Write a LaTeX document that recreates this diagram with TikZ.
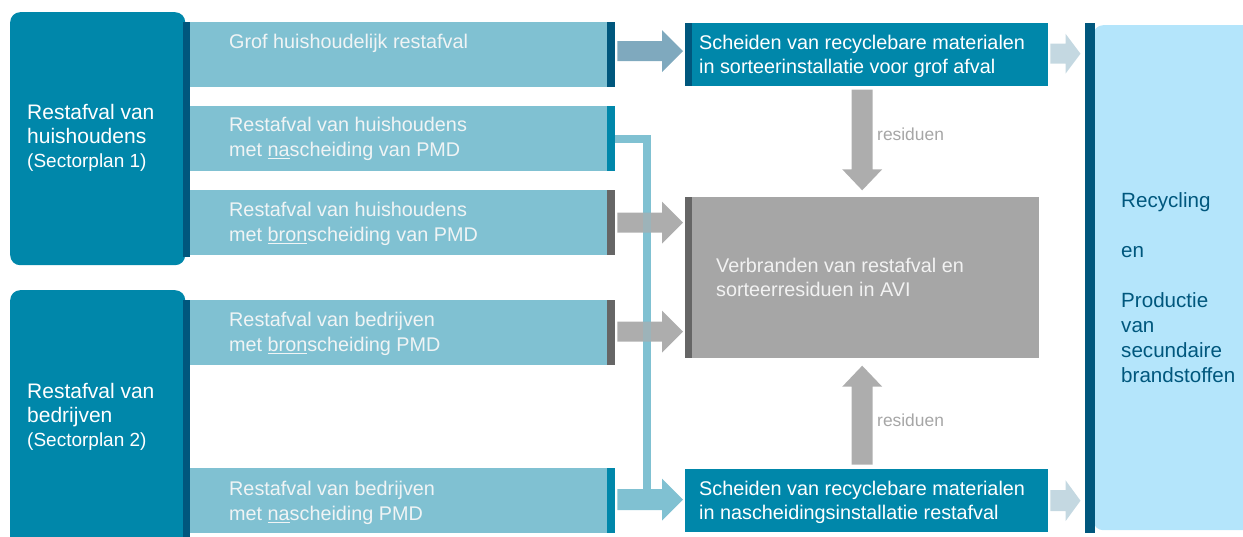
\documentclass[tikz,border=0pt]{standalone}
\usepackage{fontspec}
\setmainfont{Liberation Sans}
\usetikzlibrary{calc}
\definecolor{cTeal}{HTML}{0087AA}
\definecolor{cDark}{HTML}{00577D}
\definecolor{cLight}{HTML}{80C1D2}
\definecolor{cGstrip}{HTML}{666666}
\definecolor{cGray}{HTML}{A6A6A6}
\definecolor{cGarr}{HTML}{ADADAD}
\definecolor{cArrA}{HTML}{7FA9BE}
\definecolor{cRarr}{HTML}{C4D8E1}
\definecolor{cRfill}{HTML}{B4E5FB}
\definecolor{cLtxt}{HTML}{F0F4F5}
\definecolor{cGtxt}{HTML}{F2F2F2}
\definecolor{cRes}{HTML}{A6A6A6}
\newcommand{\mystrut}{\rule{0pt}{16pt}}
% #1 style, #2 start, #3 tip, #4 shaft half, #5 head half, #6 head length
\newcommand{\blockarrow}[6]{%
  \coordinate (hb) at ($(#3)!#6!(#2)$);
  \fill[#1] ($(#2)!#4!90:(#3)$) -- ($(hb)!#4!-90:(#2)$) -- ($(hb)!#5!-90:(#2)$) -- (#3)
     -- ($(hb)!#5!90:(#2)$) -- ($(hb)!#4!90:(#2)$) -- ($(#2)!#4!-90:(#3)$) -- cycle;}
\begin{document}
\begin{tikzpicture}[x=1pt,y=-1pt,
  bigbox/.style={fill=cTeal, rounded corners=10pt, minimum width=175pt, anchor=north west, inner sep=0pt},
  lbox/.style={fill=cLight, minimum width=425pt, minimum height=65pt, anchor=north west, inner sep=0pt},
  sortbox/.style={fill=cTeal, minimum width=363pt, minimum height=63pt, anchor=north west, inner sep=0pt},
  txt/.style={anchor=north west, inner sep=0pt, align=left, font=\fontsize{19.8}{25}\selectfont, text=cLtxt},
  sorttxt/.style={txt, font=\fontsize{19.8}{24}\selectfont, text=white},
  bigtxt/.style={txt, font=\fontsize{21}{24}\selectfont, text=white},
  restxt/.style={anchor=base west, inner sep=0pt, font=\fontsize{17.4}{20}\selectfont, text=cRes},
  bline/.style={draw=cLight, line width=8pt}
]
\useasboundingbox (0,0) rectangle (1243,536);

% left group boxes
\node[bigbox, minimum height=253pt] (L1) at (10,12) {};
\node[bigbox, minimum height=262pt] (L2) at (10,290) {};
\fill[cDark] (183,22) rectangle (190,257);
\fill[cDark] (183,300) rectangle (190,540);

% light waste boxes
\node[lbox] (r1) at (190,22) {};
\node[lbox] (r2) at (190,106) {};
\node[lbox] (r3) at (190,190) {};
\node[lbox] (r4) at (190,300) {};
\node[lbox] (r5) at (190,468) {};
\fill[cDark]   ([xshift=-8pt]r1.north east) rectangle (r1.south east);
\fill[cTeal]   ([xshift=-8pt]r2.north east) rectangle (r2.south east);
\fill[cGstrip] ([xshift=-8pt]r3.north east) rectangle (r3.south east);
\fill[cGstrip] ([xshift=-8pt]r4.north east) rectangle (r4.south east);
\fill[cTeal]   ([xshift=-8pt]r5.north east) rectangle (r5.south east);

% process boxes
\node[sortbox] (sort1) at (685,23) {};
\fill[cDark] (sort1.north west) rectangle ([xshift=7pt]sort1.south west);
\node[fill=cGray, minimum width=354pt, minimum height=161pt, anchor=north west, inner sep=0pt] (gray) at (685,197) {};
\fill[cGstrip] (gray.north west) rectangle ([xshift=7pt]gray.south west);
\node[sortbox] (sort2) at (685,469) {};

% right box
\node[fill=cRfill, rounded corners=10pt, minimum width=175pt, minimum height=505pt, anchor=north west, inner sep=0pt] (R) at (1093,25) {};
\fill[cDark] (1085,23) rectangle (1095,533);

% blue connector from row 2 to the nascheiding arrow
\coordinate (bj) at (647,498);
\draw[bline] (r2.east) -| (bj);

% horizontal arrows
\coordinate (a1s) at ($(r1.east)+(2,-3.5)$);
\coordinate (a1e) at ($(sort1.west |- a1s)+(-2,0)$);
\blockarrow{cArrA}{a1s}{a1e}{10pt}{21pt}{21pt}
\coordinate (a3s) at ($(r3.east)+(2,0)$);
\coordinate (a3e) at ($(gray.west |- a3s)+(-2,0)$);
\blockarrow{cGarr}{a3s}{a3e}{10pt}{21pt}{21pt}
\coordinate (a4s) at ($(r4.east)+(2,-1)$);
\coordinate (a4e) at ($(gray.west |- a4s)+(-2,0)$);
\blockarrow{cGarr}{a4s}{a4e}{10pt}{21pt}{21pt}
\coordinate (a5s) at ($(r5.east)+(2,-1)$);
\coordinate (a5e) at ($(sort2.west |- a5s)+(-2,0)$);
\blockarrow{cLight}{a5s}{a5e}{10.5pt}{21pt}{21pt}
% blue line seen through the grey arrows
\draw[bline, opacity=0.35] (r2.east) -| (bj);

% arrows to the right box
\coordinate (b1s) at ($(sort1.east)+(2,-1)$);
\coordinate (b1e) at ($(R.west |- b1s)+(-12.5,0)$);
\blockarrow{cRarr}{b1s}{b1e}{10pt}{20pt}{15pt}
\coordinate (b2s) at ($(sort2.east)+(2,0)$);
\coordinate (b2e) at ($(R.west |- b2s)+(-12.5,0)$);
\blockarrow{cRarr}{b2s}{b2e}{10.5pt}{20.5pt}{15pt}

% residue arrows
\coordinate (v1s) at ($(gray.north |- sort1.south)+(0,3.3)$);
\coordinate (v1e) at ($(gray.north)+(0,-6.7)$);
\blockarrow{cGarr}{v1s}{v1e}{10.5pt}{20pt}{21pt}
\coordinate (v2s) at ($(gray.south |- sort2.north)+(0,-4.3)$);
\coordinate (v2e) at ($(gray.south)+(0,7.3)$);
\blockarrow{cGarr}{v2s}{v2e}{10.5pt}{20pt}{21pt}
\node[restxt] (res1) at (877,140.7) {residuen};
\node[restxt] (res2) at (877,426.7) {residuen};

% texts
\node[bigtxt] (L1t) at (27,103) {\mystrut Restafval van\\huishoudens\\{\fontsize{19}{24}\selectfont (Sectorplan 1)}};
\node[bigtxt] (L2t) at (27,382) {\mystrut Restafval van\\bedrijven\\{\fontsize{19}{24}\selectfont (Sectorplan 2)}};
\node[txt] (t1) at (229,32.3) {\mystrut Grof huishoudelijk restafval};
\node[txt] (t2) at (229,115.7) {\mystrut Restafval van huishoudens\\met \underline{na}scheiding van PMD};
\node[txt] (t3) at (229,200) {\mystrut Restafval van huishoudens\\met \underline{bron}scheiding van PMD};
\node[txt] (t4) at (229,310) {\mystrut Restafval van bedrijven\\met \underline{bron}scheiding PMD};
\node[txt] (t5) at (229,479) {\mystrut Restafval van bedrijven\\met \underline{na}scheiding PMD};
\node[sorttxt] (s1t) at (699,33.3) {\mystrut Scheiden van recyclebare materialen\\in sorteerinstallatie voor grof afval};
\node[sorttxt] (s2t) at (699,479.7) {\mystrut Scheiden van recyclebare materialen\\in nascheidingsinstallatie restafval};
\node[sorttxt, text=cGtxt] (gt) at (716,256.3) {\mystrut Verbranden van restafval en\\sorteerresiduen in AVI};
\node[txt, font=\fontsize{20.6}{25}\selectfont, text=cDark] (Rt) at (1121,191) {\mystrut Recycling\\[25.5pt]en\\[25pt]Productie\\van\\secundaire\\brandstoffen};
\end{tikzpicture}
\end{document}
